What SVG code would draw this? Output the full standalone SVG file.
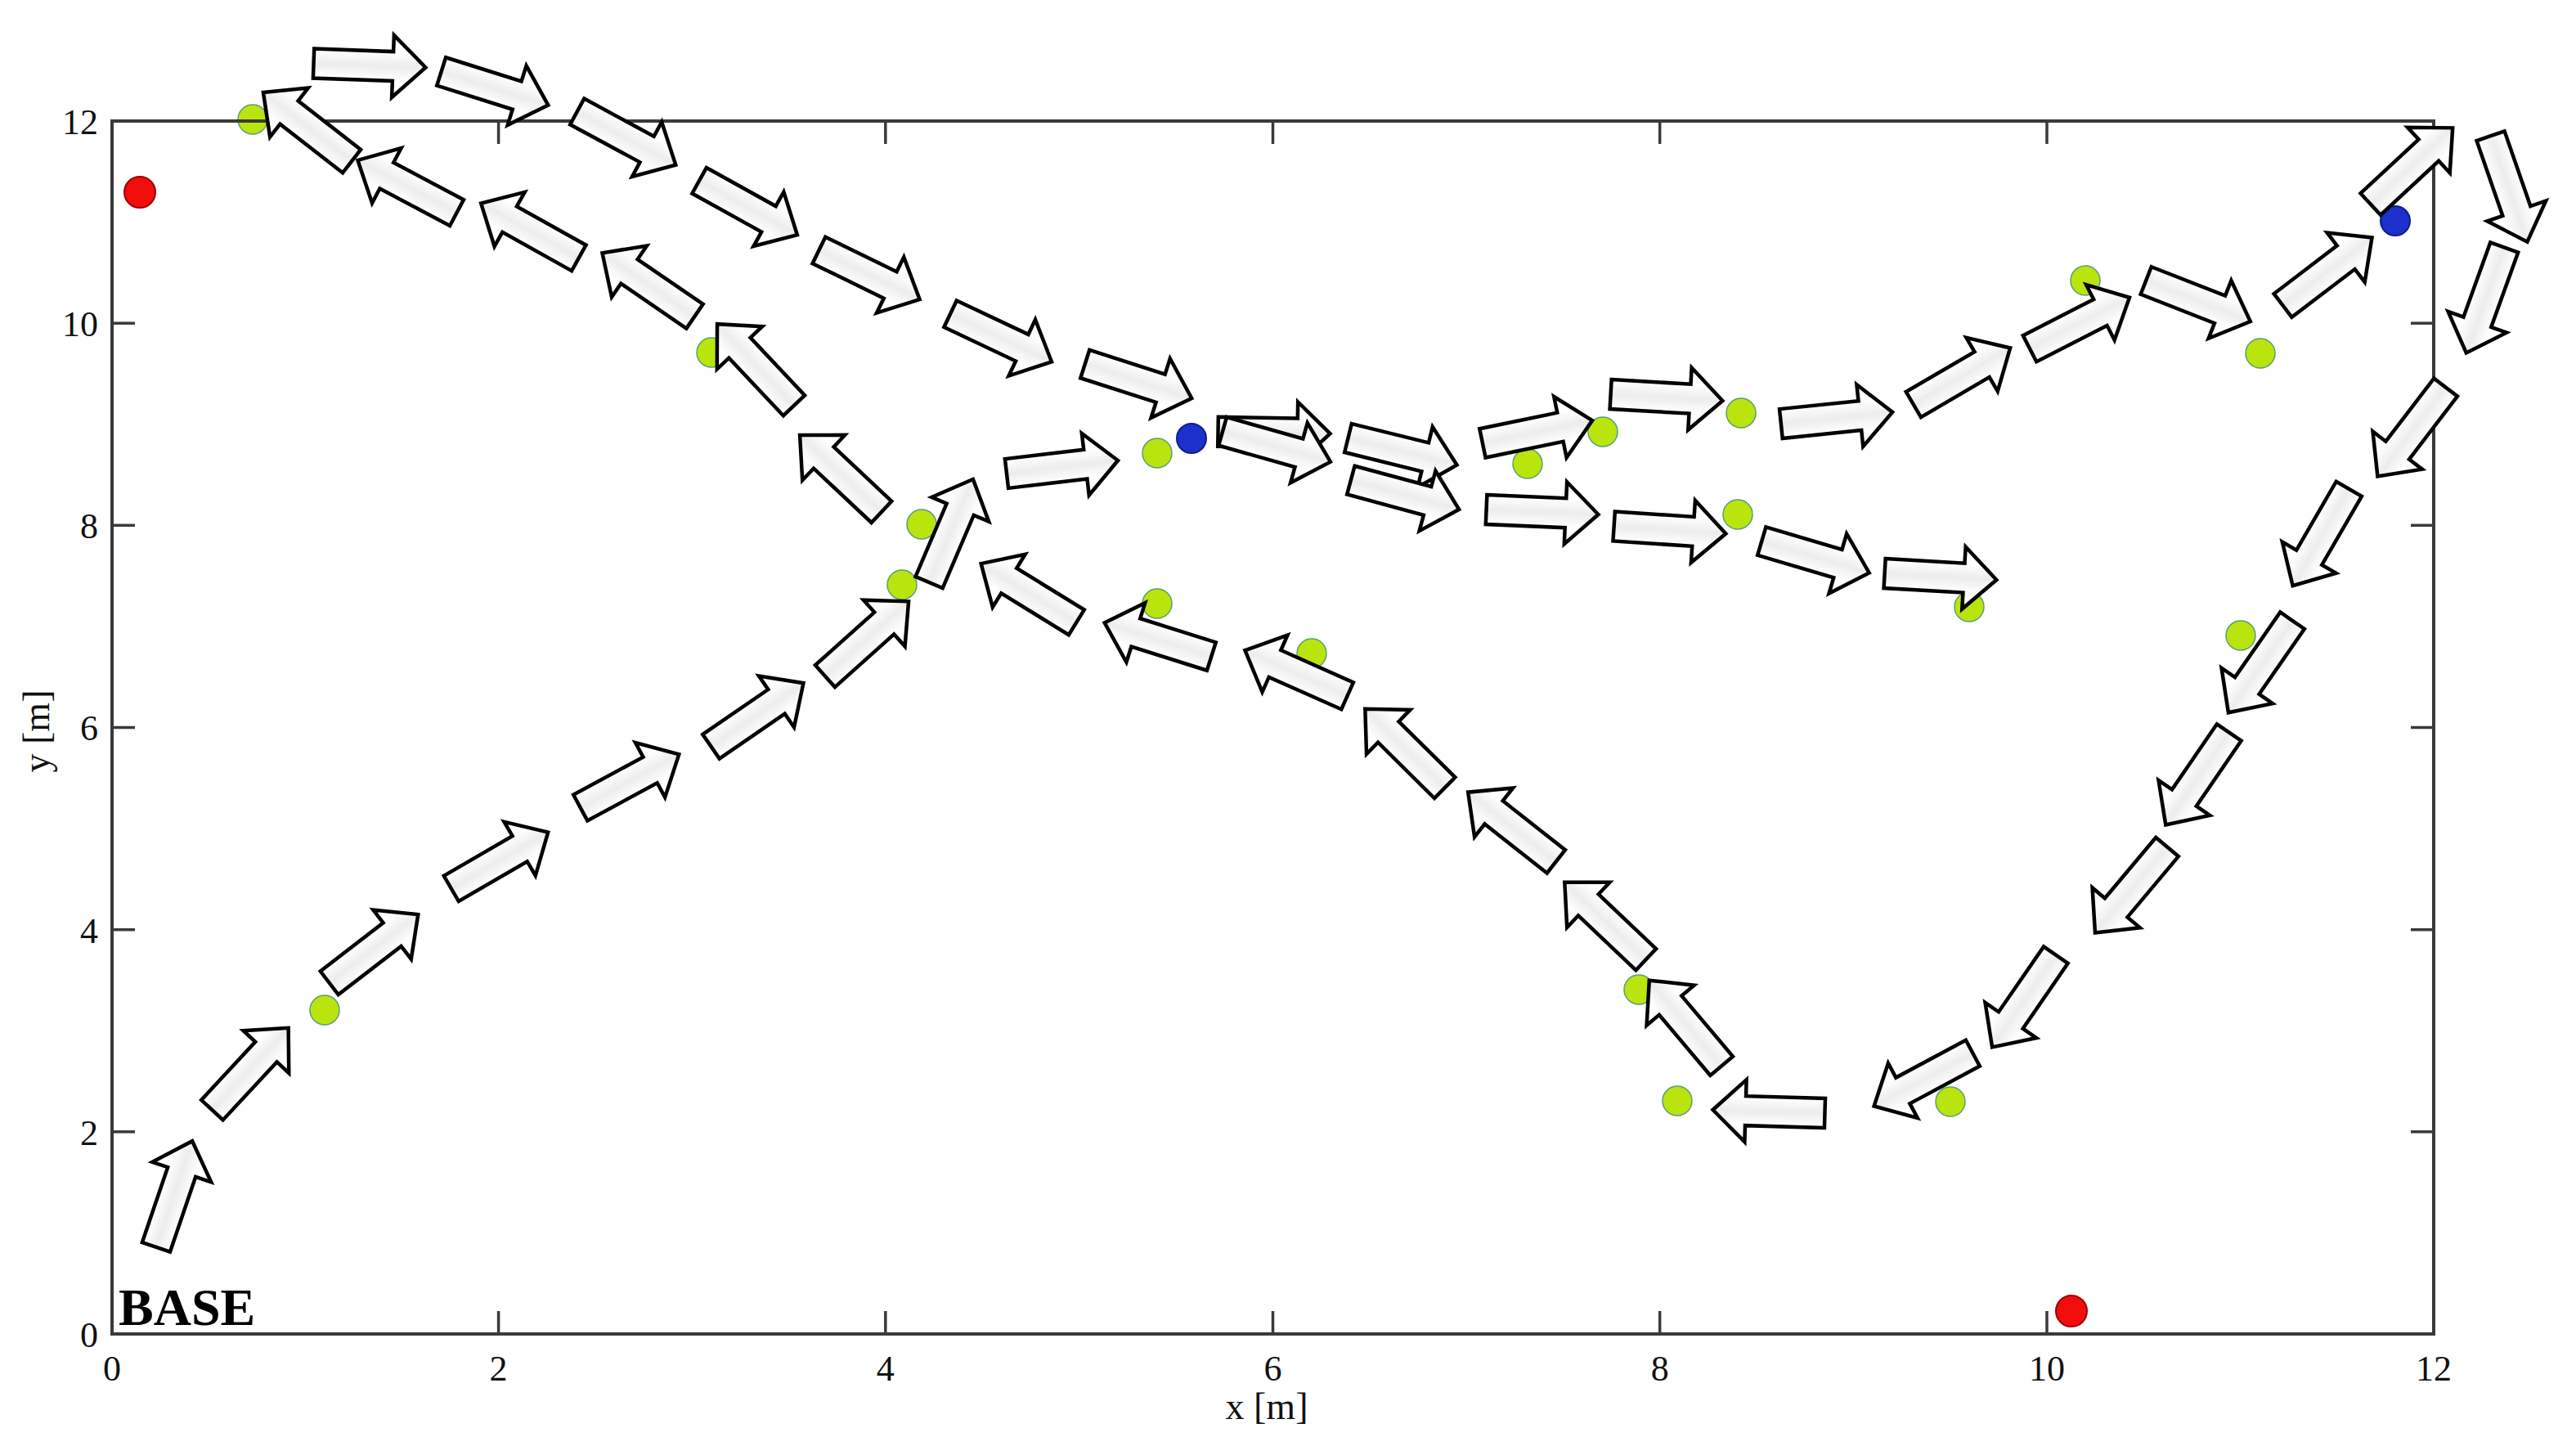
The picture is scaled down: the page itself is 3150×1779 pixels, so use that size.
<svg xmlns="http://www.w3.org/2000/svg" xmlns:xlink="http://www.w3.org/1999/xlink" width="3150" height="1779" viewBox="0 0 3150 1779">
<style>
.ax{stroke:#3a3a3a;stroke-width:4;fill:none}
.tk{stroke:#3a3a3a;stroke-width:3.5}
.tl{font-family:"Liberation Serif","Times New Roman",serif;font-size:44px;fill:#111}
.lab{font-family:"Liberation Serif","Times New Roman",serif;font-size:46px;fill:#111}
.base{font-family:"Liberation Serif","Times New Roman",serif;font-size:64px;font-weight:bold;fill:#000}
.g{fill:#b9e40e;stroke:#5f9a78;stroke-width:1.5}
.b{fill:#1c31cc;stroke:#0f1d86;stroke-width:2}
.r{fill:#f20d0d;stroke:#a00000;stroke-width:2}
.arr{fill:url(#sh);stroke:#000;stroke-width:4.5;stroke-linejoin:miter}
</style>
<defs>
<linearGradient id="sh" gradientUnits="userSpaceOnUse" x1="0" y1="-18" x2="0" y2="18">
<stop offset="0" stop-color="#ffffff"/>
<stop offset="0.3" stop-color="#f4f4f4"/>
<stop offset="0.5" stop-color="#ececec"/>
<stop offset="0.7" stop-color="#f4f4f4"/>
<stop offset="1" stop-color="#ffffff"/>
</linearGradient>
<path id="arrow" class="arr" d="M-68.5,-18 H28.5 V-38 L68.5,0 L28.5,38 V18 H-68.5 Z"/>
</defs>
<rect x="0" y="0" width="3150" height="1779" fill="#ffffff"/>

<g id="points">
<g id="g1"><circle class="g" cx="309" cy="146" r="18"/></g>
<g id="g2"><circle class="g" cx="870" cy="431" r="18"/></g>
<g id="g3"><circle class="g" cx="1127" cy="641" r="18"/></g>
<g id="g4"><circle class="g" cx="1103" cy="715" r="18"/></g>
<g id="g5"><circle class="g" cx="397" cy="1235" r="18"/></g>
<g id="g6"><circle class="g" cx="1415" cy="554" r="18"/></g>
<g id="g7"><circle class="g" cx="1415" cy="738" r="18"/></g>
<g id="g8"><circle class="g" cx="1604" cy="799" r="18"/></g>
<g id="g9"><circle class="g" cx="1868" cy="567" r="18"/></g>
<g id="g10"><circle class="g" cx="1960" cy="528" r="18"/></g>
<g id="g11"><circle class="g" cx="2129" cy="505" r="18"/></g>
<g id="g12"><circle class="g" cx="2125" cy="629" r="18"/></g>
<g id="g13"><circle class="g" cx="2408" cy="742" r="18"/></g>
<g id="g14"><circle class="g" cx="2550" cy="343" r="18"/></g>
<g id="g15"><circle class="g" cx="2764" cy="432" r="18"/></g>
<g id="g16"><circle class="g" cx="2740" cy="777" r="18"/></g>
<g id="g17"><circle class="g" cx="2385" cy="1347" r="18"/></g>
<g id="g18"><circle class="g" cx="2051" cy="1346" r="18"/></g>
<g id="g19"><circle class="g" cx="2004" cy="1210" r="18"/></g>
<g id="blue1"><circle class="b" cx="1457" cy="536" r="18"/></g>
<g id="blue2"><circle class="b" cx="2929" cy="270" r="18"/></g>
<g id="red1"><circle class="r" cx="171" cy="235" r="19"/></g>
<g id="red2"><circle class="r" cx="2533" cy="1603" r="19"/></g>
</g>

<g id="axes">
<rect class="ax" x="137" y="148" width="2839" height="1483"/>
<g class="tk">
<line x1="609.6" y1="1631" x2="609.6" y2="1603"/><line x1="1082.8" y1="1631" x2="1082.8" y2="1603"/>
<line x1="1556.5" y1="1631" x2="1556.5" y2="1603"/><line x1="2029.7" y1="1631" x2="2029.7" y2="1603"/>
<line x1="2503" y1="1631" x2="2503" y2="1603"/>
<line x1="609.6" y1="148" x2="609.6" y2="176"/><line x1="1082.8" y1="148" x2="1082.8" y2="176"/>
<line x1="1556.5" y1="148" x2="1556.5" y2="176"/><line x1="2029.7" y1="148" x2="2029.7" y2="176"/>
<line x1="2503" y1="148" x2="2503" y2="176"/>
<line x1="137" y1="1383.8" x2="165" y2="1383.8"/><line x1="137" y1="1136.7" x2="165" y2="1136.7"/>
<line x1="137" y1="889.5" x2="165" y2="889.5"/><line x1="137" y1="642.3" x2="165" y2="642.3"/>
<line x1="137" y1="395.2" x2="165" y2="395.2"/>
<line x1="2976" y1="1383.8" x2="2948" y2="1383.8"/><line x1="2976" y1="1136.7" x2="2948" y2="1136.7"/>
<line x1="2976" y1="889.5" x2="2948" y2="889.5"/><line x1="2976" y1="642.3" x2="2948" y2="642.3"/>
<line x1="2976" y1="395.2" x2="2948" y2="395.2"/>
</g>
<g class="tl" text-anchor="middle">
<text x="137" y="1688">0</text><text x="609.6" y="1688">2</text><text x="1082.8" y="1688">4</text>
<text x="1556.5" y="1688">6</text><text x="2029.7" y="1688">8</text><text x="2503" y="1688">10</text>
<text x="2976" y="1688">12</text>
</g>
<g class="tl" text-anchor="end">
<text x="120" y="1647">0</text><text x="120" y="1400">2</text><text x="120" y="1153">4</text>
<text x="120" y="905">6</text><text x="120" y="658">8</text><text x="120" y="411">10</text>
<text x="120" y="164">12</text>
</g>
<text class="lab" x="1549" y="1735" text-anchor="middle">x [m]</text>
<text class="lab" transform="translate(60,894) rotate(-90)" text-anchor="middle">y [m]</text>
<text class="base" x="145" y="1620">BASE</text>
</g>

<g id="connectors">
<use xlink:href="#arrow" transform="translate(213,1460) rotate(-71.2)"/>
<use xlink:href="#arrow" transform="translate(306,1307) rotate(-47.1)"/>
<use xlink:href="#arrow" transform="translate(457,1160) rotate(-37.6)"/>
<use xlink:href="#arrow" transform="translate(611,1052) rotate(-30.2)"/>
<use xlink:href="#arrow" transform="translate(770,955) rotate(-28.4)"/>
<use xlink:href="#arrow" transform="translate(926,874) rotate(-34.5)"/>
<use xlink:href="#arrow" transform="translate(1060,781) rotate(-41.8)"/>
<use xlink:href="#arrow" transform="translate(1163,649) rotate(-66.9)"/>
<use xlink:href="#arrow" transform="translate(1299,571) rotate(-6.7)"/>
<use xlink:href="#arrow" transform="translate(452,80) rotate(2.1)"/>
<use xlink:href="#arrow" transform="translate(605,108) rotate(17.5)"/>
<use xlink:href="#arrow" transform="translate(766,169) rotate(28.4)"/>
<use xlink:href="#arrow" transform="translate(915,254) rotate(29)"/>
<use xlink:href="#arrow" transform="translate(1063,336) rotate(26)"/>
<use xlink:href="#arrow" transform="translate(1224,413) rotate(25.3)"/>
<use xlink:href="#arrow" transform="translate(1392,466) rotate(17.8)"/>
<use xlink:href="#arrow" transform="translate(1558,529) rotate(1)"/>
<use xlink:href="#arrow" transform="translate(1715,552) rotate(13.9)"/>
<use xlink:href="#arrow" transform="translate(1561,546) rotate(15.8)"/>
<use xlink:href="#arrow" transform="translate(1718,605) rotate(15.1)"/>
<use xlink:href="#arrow" transform="translate(1880,528) rotate(-11.7)"/>
<use xlink:href="#arrow" transform="translate(2038,486) rotate(3.3)"/>
<use xlink:href="#arrow" transform="translate(2246,511) rotate(-5.9)"/>
<use xlink:href="#arrow" transform="translate(2399,460) rotate(-30.3)"/>
<use xlink:href="#arrow" transform="translate(2543,395) rotate(-27.1)"/>
<use xlink:href="#arrow" transform="translate(2688,368) rotate(21.4)"/>
<use xlink:href="#arrow" transform="translate(2846,332) rotate(-37.3)"/>
<use xlink:href="#arrow" transform="translate(2949,203) rotate(-42.9)"/>
<use xlink:href="#arrow" transform="translate(3068,231) rotate(70.9)"/>
<use xlink:href="#arrow" transform="translate(3039,367) rotate(109.8)"/>
<use xlink:href="#arrow" transform="translate(2949,528) rotate(127.4)"/>
<use xlink:href="#arrow" transform="translate(2838,657) rotate(120.1)"/>
<use xlink:href="#arrow" transform="translate(2764,815) rotate(124.8)"/>
<use xlink:href="#arrow" transform="translate(2687,952) rotate(124.4)"/>
<use xlink:href="#arrow" transform="translate(2606,1088) rotate(130)"/>
<use xlink:href="#arrow" transform="translate(2475,1224) rotate(124.6)"/>
<use xlink:href="#arrow" transform="translate(2352,1320) rotate(151.8)"/>
<use xlink:href="#arrow" transform="translate(2163,1359) rotate(181.7)"/>
<use xlink:href="#arrow" transform="translate(2061,1251) rotate(-130.2)"/>
<use xlink:href="#arrow" transform="translate(1963,1126) rotate(-136.5)"/>
<use xlink:href="#arrow" transform="translate(1849,1011) rotate(-141.8)"/>
<use xlink:href="#arrow" transform="translate(1718,915) rotate(-135.3)"/>
<use xlink:href="#arrow" transform="translate(1585,823) rotate(-156)"/>
<use xlink:href="#arrow" transform="translate(1416,782) rotate(-162.5)"/>
<use xlink:href="#arrow" transform="translate(1258,725) rotate(-148.4)"/>
<use xlink:href="#arrow" transform="translate(1028,579) rotate(-136.8)"/>
<use xlink:href="#arrow" transform="translate(924,446) rotate(-133.3)"/>
<use xlink:href="#arrow" transform="translate(793,348) rotate(-145.6)"/>
<use xlink:href="#arrow" transform="translate(648,282) rotate(-150.8)"/>
<use xlink:href="#arrow" transform="translate(498,228) rotate(-152.1)"/>
<use xlink:href="#arrow" transform="translate(376,155) rotate(-142.1)"/>
<use xlink:href="#arrow" transform="translate(1886,626) rotate(2.5)"/>
<use xlink:href="#arrow" transform="translate(2042,648) rotate(3.8)"/>
<use xlink:href="#arrow" transform="translate(2220,681) rotate(16.5)"/>
<use xlink:href="#arrow" transform="translate(2373,705) rotate(3.3)"/>
</g>
</svg>
